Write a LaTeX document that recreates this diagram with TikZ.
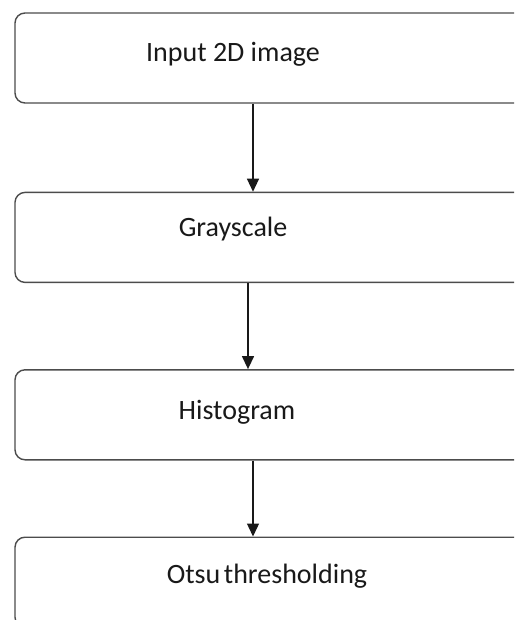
\documentclass[tikz,border=0pt]{standalone}
\usepackage{fontspec}
\setmainfont{Carlito}
\usepackage{tikz}
\usetikzlibrary{positioning, arrows.meta}

\begin{document}
\begin{tikzpicture}[
    x=1pt, y=-1pt,
    stage/.style={
      draw=black!70, line width=1.4pt, rounded corners=10pt, fill=white,
      minimum width=516pt, minimum height=90pt, inner sep=0pt
    },
    lbl/.style={
      inner sep=0pt, text=black!90, font=\fontsize{28}{32}\selectfont
    },
    arr/.style={-{Triangle[length=13pt, width=12pt]}, line width=1.3pt, black!90},
  ]
    \useasboundingbox (0,0) rectangle (514,620);
    \clip (0,0) rectangle (514,620);
    % the four stages
    \node[stage] (input) at (273,58) {};
    \node[stage, below=88pt of input] (gray) {};
    \node[stage, below=86pt of gray] (hist) {};
    \node[stage, below=76pt of hist] (otsu) {};
    % their texts
    \node[lbl] (inputtxt) at (233,54) {Input 2D image};
    \node[lbl] (graytxt) at (233,229) {Grayscale};
    \node[lbl] (histtxt) at (237,412) {Histogram};
    \node[lbl] (otsutxt) at (267,576) {Otsu\hspace{-0.1em} thresholding};
    \draw[arr] ([xshift=-20pt]input.south) -- ([xshift=-20pt]gray.north);
    \draw[arr] ([xshift=-25pt]gray.south) -- ([xshift=-25pt]hist.north);
    \draw[arr] ([xshift=-20pt]hist.south) -- ([xshift=-20pt]otsu.north);
  \end{tikzpicture}
\end{document}
